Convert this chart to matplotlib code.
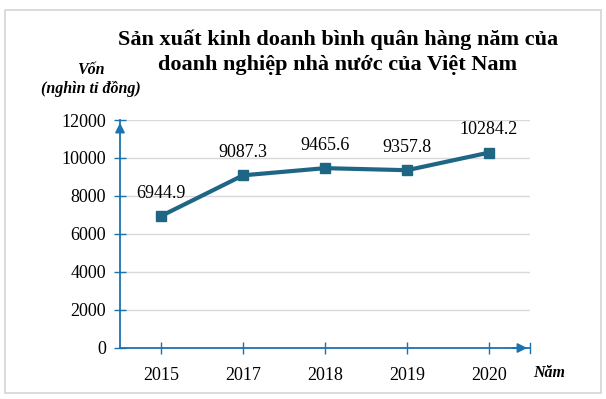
import matplotlib
matplotlib.use('Agg')
import matplotlib.pyplot as plt
from matplotlib.patches import Rectangle

years = ['2015', '2017', '2018', '2019', '2020']
von = [6944.9, 9087.3, 9465.6, 9357.8, 10284.2]
yticks = [0, 2000, 4000, 6000, 8000, 10000, 12000]

line_color = '#1f6685'
axis_color = '#1a72b0'
grid_color = '#d9d9d9'

plt.rcParams['font.family'] = ['Liberation Serif', 'DejaVu Serif']

fig = plt.figure(figsize=(6.06, 3.99), dpi=100)
fig.patches.append(Rectangle((5 / 606, 1 - 393 / 399), 596 / 606, 383 / 399,
                             transform=fig.transFigure, fill=False,
                             edgecolor='#d4d4d4', lw=1.2))

ax = fig.add_axes([120 / 606, 1 - 348 / 399, 410 / 606, 228 / 399])
x = list(range(len(years)))
ax.plot(x, von, color=line_color, lw=3, marker='s', markersize=7,
        markerfacecolor=line_color, markeredgecolor=line_color, zorder=3)
for xi, v in zip(x, von):
    ax.annotate('%.1f' % v, (xi, v), xytext=(0, 16.5), textcoords='offset points',
                ha='center', va='center', fontsize=13)

ax.set_xlim(-0.5, 4.5)
ax.set_ylim(0, 12000)
ax.set_xticks(x)
ax.set_xticklabels(years, fontsize=13)
ax.set_yticks(yticks)
ax.set_yticklabels([str(t) for t in yticks], fontsize=13)
ax.yaxis.grid(True, color=grid_color, lw=1)
ax.set_axisbelow(True)

for s in ['top', 'right']:
    ax.spines[s].set_visible(False)
for s in ['left', 'bottom']:
    ax.spines[s].set_color(axis_color)
    ax.spines[s].set_linewidth(1.3)
ax.tick_params(direction='inout', length=8, width=1, color=axis_color)
ax.tick_params(axis='x', pad=10)
ax.tick_params(axis='y', pad=6)

# mũi tên ở đầu trục
ax.annotate('', xy=(0, 1.0), xytext=(0, 0.94), xycoords='axes fraction',
            arrowprops=dict(arrowstyle='-|>', color=axis_color, lw=1.3, mutation_scale=14))
ax.annotate('', xy=(1.0, 0), xytext=(0.95, 0), xycoords='axes fraction',
            arrowprops=dict(arrowstyle='-|>', color=axis_color, lw=1.3, mutation_scale=14))
ax.plot([1, 1], [-0.02, 0.02], transform=ax.transAxes, color=axis_color, lw=1,
        clip_on=False)

fig.text(338 / 606, 1 - 40 / 399, 'Sản xuất kinh doanh bình quân hàng năm của',
         ha='center', va='center', fontsize=16, fontweight='bold')
fig.text(338 / 606, 1 - 65 / 399, 'doanh nghiệp nhà nước của Việt Nam',
         ha='center', va='center', fontsize=16, fontweight='bold')
fig.text(91 / 606, 1 - 70 / 399, 'Vốn', ha='center', va='center', fontsize=11.5,
         fontweight='bold', fontstyle='italic')
fig.text(91 / 606, 1 - 89 / 399, '(nghìn tỉ đồng)', ha='center', va='center',
         fontsize=11.5, fontweight='bold', fontstyle='italic')
fig.text(549 / 606, 1 - 373 / 399, 'Năm', ha='center', va='center', fontsize=11.5,
         fontweight='bold', fontstyle='italic')

fig.savefig('out.png', dpi=100)
